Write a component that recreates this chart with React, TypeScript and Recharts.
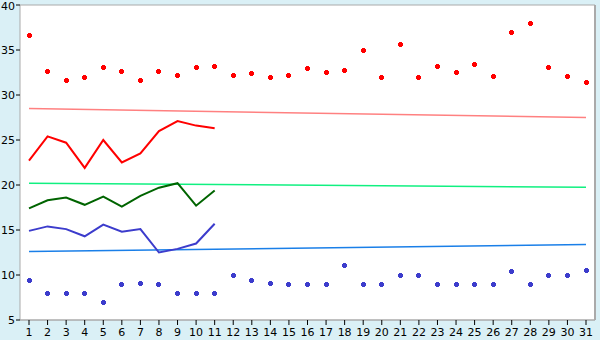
import React from 'react';
import {
  ComposedChart,
  Line,
  XAxis,
  YAxis,
  CartesianGrid,
} from 'recharts';

// x categories (days of month)
const days = [
  1, 2, 3, 4, 5, 6, 7, 8, 9, 10, 11, 12, 13, 14, 15, 16,
  17, 18, 19, 20, 21, 22, 23, 24, 25, 26, 27, 28, 29, 30, 31,
];

// scattered markers
const highMarks = [
  36.6, 32.6, 31.6, 32.0, 33.1, 32.6, 31.6, 32.6, 32.2, 33.0, 33.2,
  32.2, 32.4, 32.0, 32.2, 32.9, 32.5, 32.7, 35.0, 32.0, 35.6,
  31.9, 33.2, 32.5, 33.4, 32.1, 37.0, 38.0, 33.0, 32.1, 31.4,
];
const lowMarks = [
  9.4, 8.0, 8.0, 8.0, 7.0, 9.0, 9.1, 9.0, 8.0, 8.0, 8.0,
  9.9, 9.4, 9.1, 9.0, 9.0, 9.0, 11.0, 9.0, 9.0, 10.0,
  10.0, 9.0, 9.0, 9.0, 9.0, 10.4, 9.0, 10.0, 10.0, 10.5,
];

// measured lines (first 11 days only)
const highLine = [22.7, 25.4, 24.7, 21.9, 25.0, 22.5, 23.5, 26.0, 27.1, 26.6, 26.3];
const midLine = [17.4, 18.3, 18.6, 17.8, 18.7, 17.6, 18.8, 19.7, 20.2, 17.7, 19.4];
const lowLine = [14.9, 15.4, 15.1, 14.3, 15.6, 14.8, 15.1, 12.5, 12.9, 13.5, 15.7];

// trend lines: value on day 1 and day 31
const highTrend = [28.5, 27.5];
const midTrend = [20.2, 19.75];
const lowTrend = [12.6, 13.4];

const yTicks = [5, 10, 15, 20, 25, 30, 35, 40];

const ends = (pair: number[], i: number) =>
  i === 0 ? pair[0] : i === days.length - 1 ? pair[1] : null;

const data = days.map((day, i) => ({
  day,
  highMark: highMarks[i],
  lowMark: lowMarks[i],
  highLine: i < highLine.length ? highLine[i] : null,
  midLine: i < midLine.length ? midLine[i] : null,
  lowLine: i < lowLine.length ? lowLine[i] : null,
  highTrend: ends(highTrend, i),
  midTrend: ends(midTrend, i),
  lowTrend: ends(lowTrend, i),
}));

// small "+" shaped marker like the original
const plusDot = (color: string) => (props: any) => {
  const { cx, cy, index } = props;
  if (cx == null || cy == null) return <g key={index} />;
  const x = Math.floor(cx);
  const y = Math.floor(cy);
  return (
    <g key={index} fill={color} shapeRendering="crispEdges">
      <rect x={x - 1} y={y - 2} width={3} height={5} />
      <rect x={x - 2} y={y - 1} width={5} height={3} />
    </g>
  );
};

const tickStyle = { fontSize: 11, fill: '#000', fontFamily: '"DejaVu Sans", Verdana, sans-serif' };

export default function App() {
  return (
    <div
      style={{
        position: 'absolute',
        left: 0,
        top: 0,
        width: 600,
        height: 340,
        background: '#daf0f6',
      }}
    >
      <ComposedChart
        width={600}
        height={340}
        data={data}
        margin={{ top: 5, right: 4, left: 0, bottom: 0 }}
      >
        <CartesianGrid vertical={false} stroke="#aaaaaa" fill="#ffffff" />
        <XAxis
          dataKey="day"
          interval={0}
          height={20}
          padding={{ left: 9, right: 9 }}
          tick={tickStyle}
          tickSize={5}
          tickMargin={3}
          axisLine={{ stroke: '#aaaaaa' }}
          tickLine={{ stroke: '#000' }}
        />
        <YAxis
          yAxisId="l"
          domain={[5, 40]}
          ticks={yTicks}
          width={20}
          tick={tickStyle}
          tickSize={4}
          tickMargin={1}
          axisLine={{ stroke: '#aaaaaa' }}
          tickLine={{ stroke: '#000' }}
        />
        <YAxis
          yAxisId="r"
          orientation="right"
          domain={[5, 40]}
          width={1}
          tick={false}
          tickLine={false}
          axisLine={{ stroke: '#aaaaaa', strokeWidth: 2 }}
        />
        <Line yAxisId="l" dataKey="highTrend" stroke="#ff8080" strokeWidth={1.5} dot={false} activeDot={false} connectNulls isAnimationActive={false} />
        <Line yAxisId="l" dataKey="midTrend" stroke="#10f080" strokeWidth={1.5} dot={false} activeDot={false} connectNulls isAnimationActive={false} />
        <Line yAxisId="l" dataKey="lowTrend" stroke="#1a7fe8" strokeWidth={1.5} dot={false} activeDot={false} connectNulls isAnimationActive={false} />
        <Line yAxisId="l" type="linear" dataKey="highLine" stroke="#ff0000" strokeWidth={2} dot={false} activeDot={false} isAnimationActive={false} />
        <Line yAxisId="l" type="linear" dataKey="midLine" stroke="#006400" strokeWidth={2} dot={false} activeDot={false} isAnimationActive={false} />
        <Line yAxisId="l" type="linear" dataKey="lowLine" stroke="#3c3ccc" strokeWidth={2} dot={false} activeDot={false} isAnimationActive={false} />
        <Line yAxisId="l" dataKey="highMark" stroke="none" dot={plusDot('#ff0000')} activeDot={false} isAnimationActive={false} />
        <Line yAxisId="l" dataKey="lowMark" stroke="none" dot={plusDot('#3c3ccc')} activeDot={false} isAnimationActive={false} />
      </ComposedChart>
    </div>
  );
}
